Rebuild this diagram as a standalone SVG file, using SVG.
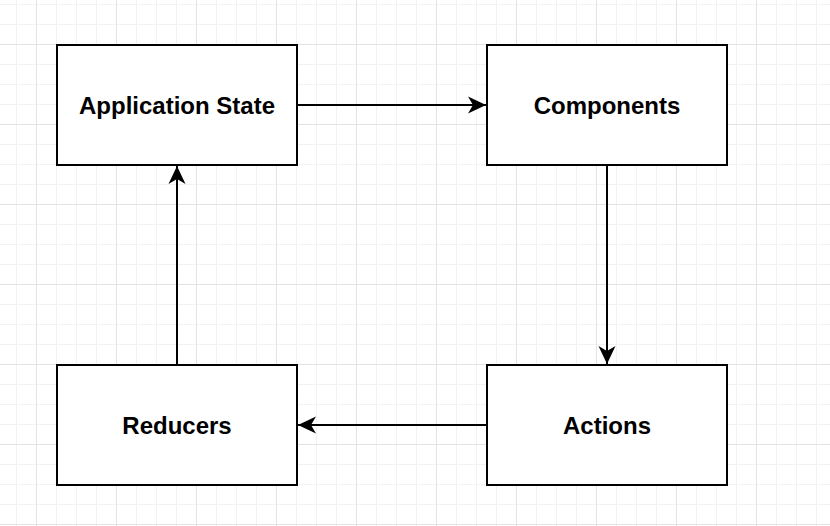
<svg xmlns="http://www.w3.org/2000/svg" width="830" height="526" viewBox="0 0 830 526">
  <defs>
    <pattern id="minor" x="16" y="4" width="20" height="20" patternUnits="userSpaceOnUse">
      <path d="M0.5 0V20M0 0.5H20" fill="none" stroke="#f2f2f2" stroke-width="1"/>
    </pattern>
    <pattern id="major" x="36" y="44" width="80" height="80" patternUnits="userSpaceOnUse">
      <path d="M0.5 0V80M0 0.5H80" fill="none" stroke="#e3e3e3" stroke-width="1"/>
    </pattern>
    <marker id="arrow" viewBox="0 0 18 18" refX="18" refY="9" markerWidth="18" markerHeight="18" markerUnits="userSpaceOnUse" orient="auto">
      <path d="M0 0.5L18 9L0 17.5L5 9Z" fill="#000"/>
    </marker>
    <style>
      .box { fill: #fff; stroke: #000; stroke-width: 2; }
      .label { font-family: "Liberation Sans", Arial, Helvetica, sans-serif; font-weight: bold; font-size: 24px; fill: #000; text-anchor: middle; }
      .edge { fill: none; stroke: #000; stroke-width: 2; marker-end: url(#arrow); }
    </style>
  </defs>
  <rect width="830" height="526" fill="#fff"/>
  <rect width="830" height="526" fill="url(#minor)"/>
  <rect width="830" height="526" fill="url(#major)"/>

  <g id="connectors">
    <path class="edge" d="M297 105H486"/>
    <path class="edge" d="M607 165V364"/>
    <path class="edge" d="M487 425H298"/>
    <path class="edge" d="M177 365V166"/>
  </g>

  <g id="node-application-state">
    <rect class="box" x="57" y="45" width="240" height="120"/>
    <text class="label" x="177" y="113.5">Application State</text>
  </g>
  <g id="node-components">
    <rect class="box" x="487" y="45" width="240" height="120"/>
    <text class="label" x="607" y="113.5">Components</text>
  </g>
  <g id="node-reducers">
    <rect class="box" x="57" y="365" width="240" height="120"/>
    <text class="label" x="177" y="433.5">Reducers</text>
  </g>
  <g id="node-actions">
    <rect class="box" x="487" y="365" width="240" height="120"/>
    <text class="label" x="607" y="433.5">Actions</text>
  </g>
</svg>
